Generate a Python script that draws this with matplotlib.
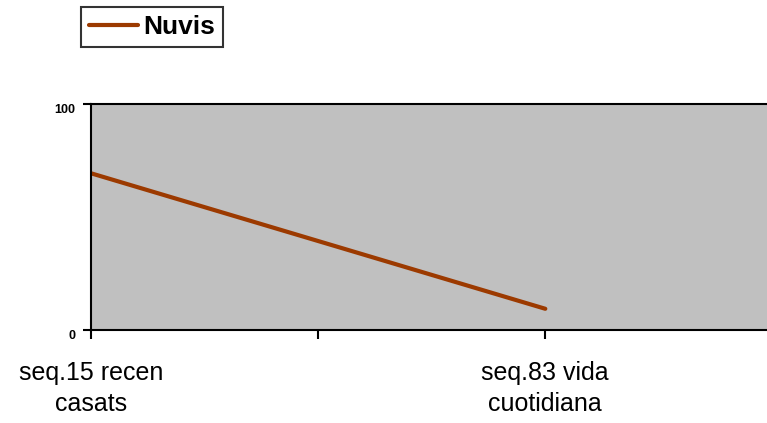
import matplotlib.pyplot as plt
import matplotlib.transforms as mtransforms
from matplotlib.lines import Line2D

plt.rcParams['font.family'] = ['Liberation Sans', 'DejaVu Sans']

# categories on the x axis (only every other one is labelled)
categories = ["seq.15 recen\ncasats", "", "seq.83 vida\ncuotidiana", ""]
nuvis = [69.4, 39.4, 9.4]
yticks = [0, 100]

line_color = '#9C3A00'

fig = plt.figure(figsize=(7.67, 4.23), dpi=100)
ax = fig.add_axes([91.3 / 767, 1 - 330 / 423, 681 / 767, 225.7 / 423])
ax.set_facecolor('#C0C0C0')

ax.plot(range(len(nuvis)), nuvis, color=line_color, lw=3, solid_capstyle='round')

ax.set_xlim(0, len(categories) - 1)
ax.set_ylim(0, 100)
ax.set_xticks(range(len(categories)))
ax.set_xticklabels(categories, fontsize=18, linespacing=1.38)
ax.set_yticks(yticks)
ax.set_yticklabels([str(v) for v in yticks], fontsize=9, fontweight='bold')
ax.tick_params(axis='x', length=6.5, width=1.5, pad=16, direction='out')
ax.tick_params(axis='y', length=5.5, width=1.5, pad=6, direction='out')

# y labels sit a little below their ticks in the original
shift = mtransforms.ScaledTranslation(0, -4 / 100, fig.dpi_scale_trans)
for lab in ax.get_yticklabels():
    lab.set_transform(lab.get_transform() + shift)

for s in ['left', 'top', 'bottom']:
    ax.spines[s].set_linewidth(1.5)
ax.spines['right'].set_visible(False)

handle = Line2D([], [], color=line_color, lw=3, solid_capstyle='round')
leg = fig.legend([handle], ['Nuvis'], loc='upper left',
                 bbox_to_anchor=(81 / 767, 1 - 7 / 423),
                 prop={'size': 19, 'weight': 'bold'},
                 frameon=True, fancybox=False, borderpad=0.3,
                 handlelength=1.85, handletextpad=0.22, borderaxespad=0)
leg.get_frame().set_edgecolor('black')
leg.get_frame().set_linewidth(1.5)

fig.savefig('out.png', dpi=100)
